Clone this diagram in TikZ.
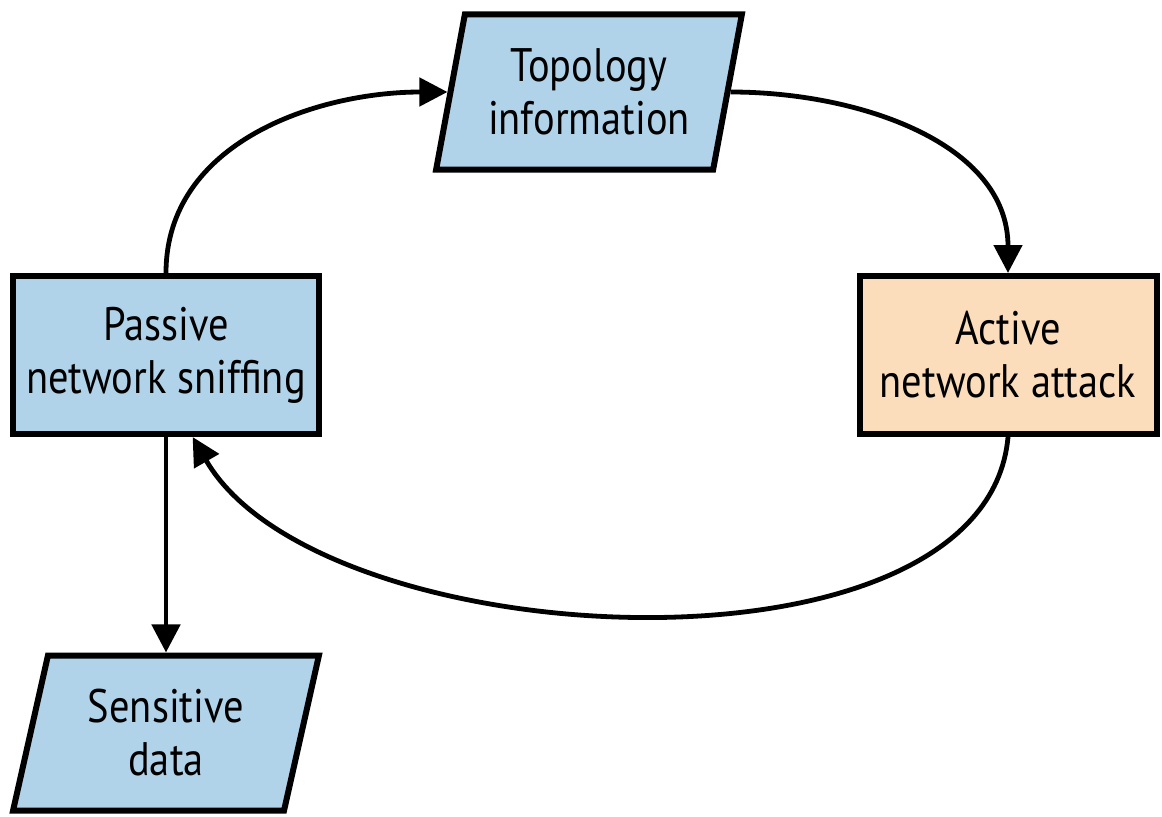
\documentclass[tikz,border=0pt]{standalone}
\usepackage{fontspec}
\setmainfont{PT Sans}[FakeStretch=0.86]
\usetikzlibrary{positioning,shapes.geometric,arrows.meta}
\definecolor{sniffblue}{HTML}{B1D3EA}
\definecolor{attackorange}{HTML}{FCDDBB}

\begin{document}
\begin{tikzpicture}[x=0.5pt, y=0.5pt,
    box/.style={draw, line width=3pt, minimum width=153pt, minimum height=79pt,
      align=center, fill=#1, font=\fontsize{23.5}{26.5}\selectfont},
    box/.default=sniffblue,
    databox/.style={box, trapezium, trapezium left angle=76, trapezium right angle=104,
      trapezium stretches=true, minimum height=77.5pt},
    arr/.style={-{Triangle[length=14pt,width=14pt]}, line width=2.4pt}]
    \useasboundingbox (0,0) rectangle (1162,816);
    \node[box] (sniff) at (166,461) {Passive\\network sniffing};
    \node[box=attackorange, minimum width=148.5pt] (attack) at (1008,461) {Active\\network attack};
    \node[databox] (topo) at (589,724) {Topology\\information};
    \node[databox] (data) at (166,83) {Sensitive\\data};
    \draw[arr] (sniff.north) to[out=90, in=180] (topo.west);
    \draw[arr] (topo.east) to[out=0, in=90] (attack.north);
    \draw[arr] (attack.south) to[out=-95, in=-60, looseness=0.8] (sniff.-72);
    \draw[arr] (sniff.south) -- (sniff.south |- data.north);
\end{tikzpicture}
\end{document}
